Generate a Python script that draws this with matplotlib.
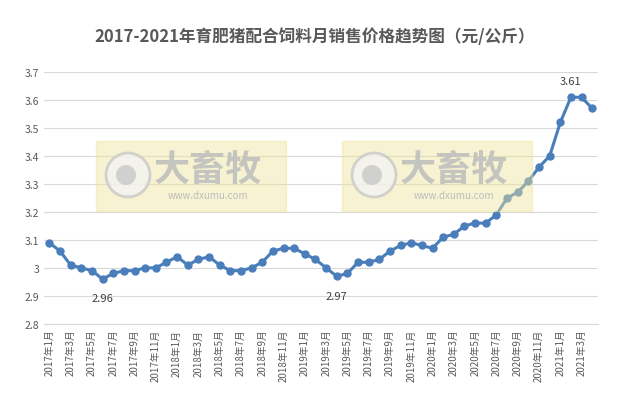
import matplotlib.pyplot as plt
from matplotlib.patches import Rectangle, Ellipse

plt.rcParams['font.family'] = ['Noto Sans CJK SC', 'DejaVu Sans']

prices = [3.09, 3.06, 3.01, 3.00, 2.99, 2.96, 2.98, 2.99, 2.99, 3.00, 3.00, 3.02,
          3.04, 3.01, 3.03, 3.04, 3.01, 2.99, 2.99, 3.00, 3.02, 3.06, 3.07, 3.07,
          3.05, 3.03, 3.00, 2.97, 2.98, 3.02, 3.02, 3.03, 3.06, 3.08, 3.09, 3.08,
          3.07, 3.11, 3.12, 3.15, 3.16, 3.16, 3.19, 3.25, 3.27, 3.31, 3.36, 3.40,
          3.52, 3.61, 3.61, 3.57]
months = [f"{2017 + i // 12}年{i % 12 + 1}月" for i in range(len(prices))]
annotated = {5: "2.96", 27: "2.97", 49: "3.61"}

fig = plt.figure(figsize=(6.29, 4.06), dpi=100)
ax = fig.add_axes([0.07, 0.2, 0.88, 0.62])
x = list(range(len(prices)))

ax.plot(x, prices, color='#4a7ebb', lw=2.2, marker='o', ms=5, zorder=3)
for i, t in annotated.items():
    dy = 12 if i == 49 else -14
    ax.annotate(t, (i, prices[i]), xytext=(0, dy), textcoords='offset points',
                ha='center', va='center', fontsize=8, color='#404040')

# watermarks (semi-transparent, over the line)
W, H = 629, 406
for x0 in [96, 342]:
    fig.patches.append(Rectangle((x0 / W, 1 - 212 / H), 190 / W, 70 / H, transform=fig.transFigure,
                                 color='#eee49a', alpha=0.45, zorder=5))
    fig.patches.append(Ellipse(((x0 + 32) / W, 1 - 176 / H), 44 / W, 44 / H, transform=fig.transFigure,
                               facecolor='#f2f2f2', edgecolor='#c8c8c8', lw=2, alpha=0.8, zorder=6))
    fig.patches.append(Ellipse(((x0 + 30) / W, 1 - 176 / H), 20 / W, 20 / H, transform=fig.transFigure,
                               facecolor='#c8c8c8', edgecolor='none', alpha=0.8, zorder=6))
    fig.text((x0 + 112) / W, 1 - 170 / H, "大畜牧", fontsize=26, color='#bdbdbd', alpha=0.85,
             ha='center', va='center', weight='bold', zorder=7)
    fig.text((x0 + 112) / W, 1 - 196 / H, "www.dxumu.com", fontsize=7, color='#bdbdbd',
             ha='center', va='center', zorder=7)

ax.set_ylim(2.8, 3.7)
ax.set_yticks([2.8 + 0.1 * k for k in range(10)])
ax.set_yticklabels(['2.8', '2.9', '3', '3.1', '3.2', '3.3', '3.4', '3.5', '3.6', '3.7'])
ax.set_xlim(-0.5, len(prices) - 0.5)
ax.set_xticks(x[::2])
ax.set_xticklabels(months[::2], rotation=90, fontsize=7, color='#595959')
ax.tick_params(axis='y', labelsize=7.5, colors='#595959', length=0)
ax.tick_params(axis='x', length=0)
ax.grid(axis='y', color='#d9d9d9', lw=0.8)
ax.set_axisbelow(True)
for s in ['top', 'right', 'left']:
    ax.spines[s].set_visible(False)
ax.spines['bottom'].set_color('#d9d9d9')

fig.suptitle("2017-2021年育肥猪配合饲料月销售价格趋势图（元/公斤）", y=0.93,
             fontsize=12, weight='bold', color='#595959')
fig.savefig('out.png')
